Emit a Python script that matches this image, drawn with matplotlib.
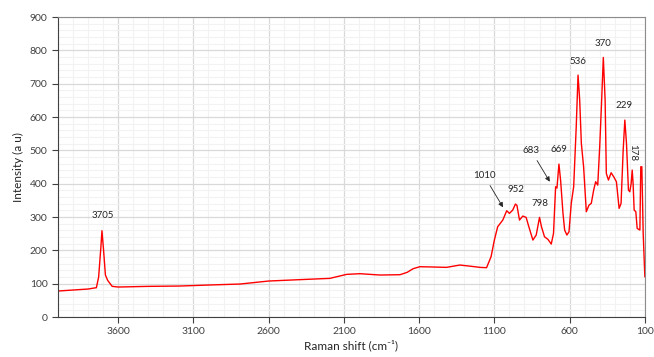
import matplotlib
matplotlib.use("Agg")
import matplotlib.pyplot as plt
from matplotlib.ticker import MultipleLocator
import numpy as np

### spectrum (Raman shift, intensity)
shift = [4000, 3900, 3800, 3760, 3745, 3730, 3715, 3708, 3698, 3685, 3670, 3640, 3600,
         3400, 3190, 3000, 2790, 2600, 2400, 2193, 2082, 1993, 1860, 1727, 1680, 1640, 1595,
         1500, 1418, 1329, 1250, 1196, 1152, 1122, 1100, 1078, 1044, 1018, 1000, 978,
         960, 950, 933, 911, 889, 871, 844, 822, 800, 787, 767, 744, 722, 707, 693,
         684, 671, 660, 644, 633, 618, 604, 589, 573, 556, 544, 533, 522, 507, 489,
         471, 456, 440, 427, 413, 400, 388, 376, 364, 356, 342, 324, 307, 289, 271,
         258, 244, 233, 222, 209, 200, 191, 184, 178, 171, 160, 151, 133, 127, 120,
         111, 100]
intensity = [78, 81, 84, 87, 88, 120, 210, 259, 205, 126, 110, 92, 90,
             92, 93, 96, 99, 108, 112, 116, 128, 130, 126, 127, 134, 145, 151,
             150, 149, 156, 152, 149, 148, 181, 231, 271, 291, 319, 311, 321,
             339, 335, 291, 303, 299, 271, 231, 246, 299, 271, 241, 233, 219, 251, 391,
             387, 459, 411, 311, 261, 246, 256, 341, 391, 571, 726, 651, 521, 451, 316,
             336, 341, 381, 406, 396, 511, 640, 779, 651, 431, 411, 433, 421, 406, 326,
             341, 501, 591, 521, 381, 376, 401, 441, 400, 321, 316, 266, 261, 451, 451,
             251, 121]

### peak labels: text, x, y
labels = ["3705", "952", "798", "669", "536", "370", "229"]
label_x = [3705, 955, 795, 671, 544, 378, 238]
label_y = [290, 370, 328, 490, 753, 806, 622]

### arrowed labels: text, text pos, arrow tip
arr_labels = ["1010", "683"]
arr_text_x = [1167, 855]
arr_text_y = [410, 485]
arr_tip_x = [1033, 722]
arr_tip_y = [322, 399]

plt.rcParams.update({'font.family': ['Lato', 'DejaVu Sans'], 'font.size': 7.5})

fig, ax = plt.subplots(figsize=(6.54, 3.57), dpi=100)
fig.subplots_adjust(left=0.0887, right=0.986, top=0.952, bottom=0.112)

ax.plot(shift, intensity, color='#ff0000', lw=1.0)

ax.set_xlim(4000, 100)
ax.set_ylim(0, 900)
ax.set_xticks([3600, 3100, 2600, 2100, 1600, 1100, 600, 100])
ax.xaxis.set_minor_locator(MultipleLocator(100))
ax.yaxis.set_major_locator(MultipleLocator(100))
ax.yaxis.set_minor_locator(MultipleLocator(20))
ax.grid(which='major', color='#d9d9d9', lw=0.9)
ax.grid(which='minor', color='#f2f2f2', lw=0.8)
ax.set_axisbelow(True)
ax.tick_params(which='major', direction='out', length=4, width=0.8, color='#404040', labelsize=7.5, labelcolor='#404040')
ax.tick_params(which='minor', length=0)
for s in ['left', 'bottom']:
    ax.spines[s].set_color('#404040')
for s in ['top', 'right']:
    ax.spines[s].set_color('#8c8c8c')

ax.set_xlabel("Raman shift (cm\u207b\u00b9)", fontsize=8.5, color='#262626', labelpad=2)
ax.set_ylabel("Intensity (a u)", fontsize=8.5, color='#262626', labelpad=4)

for t, x, y in zip(labels, label_x, label_y):
    ax.text(x, y, t, ha='center', va='bottom', fontsize=7, color='#262626')
ax.text(182, 493, "178", rotation=270, ha='center', va='center', fontsize=7, color='#262626')
for t, tx, ty, ax_, ay in zip(arr_labels, arr_text_x, arr_text_y, arr_tip_x, arr_tip_y):
    ax.annotate(t, xy=(ax_, ay), xytext=(tx, ty), ha='center', va='bottom', fontsize=7, color='#262626',
                arrowprops=dict(arrowstyle='-|>', color='#262626', lw=0.6, mutation_scale=7))

fig.savefig("out.png", dpi=100)
